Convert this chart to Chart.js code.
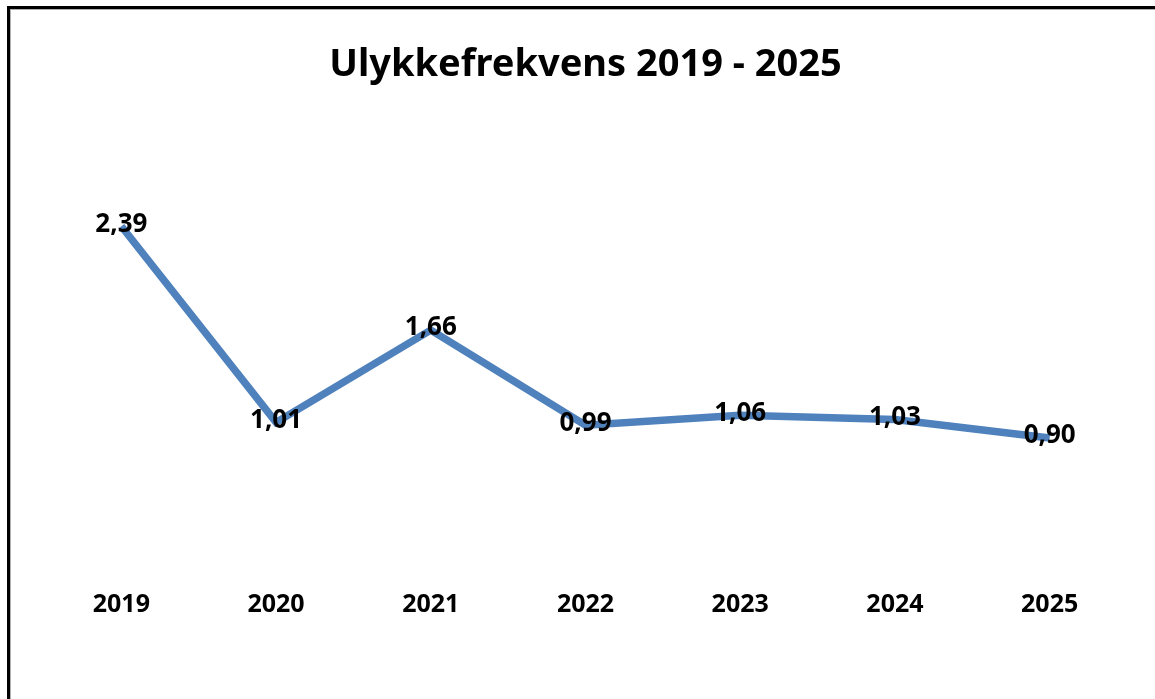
<!DOCTYPE html>
<html>
<head>
<meta charset="utf-8">
<script src="https://cdn.jsdelivr.net/npm/chart.js@4/dist/chart.umd.min.js"></script>
<style>
  html, body { margin: 0; padding: 0; background: #fff; overflow: hidden; }
  #wrap { position: absolute; left: 0; top: 0; width: 1155px; height: 699px; }
  #frame {
    position: absolute; left: 7px; top: 6px; width: 1170px; height: 720px;
    border: 3px solid #000; box-sizing: border-box; pointer-events: none;
    box-shadow: inset 1px 1px 0 #b0b0b0;
  }
</style>
</head>
<body>
<div id="wrap">
  <canvas id="chart" width="1155" height="699"></canvas>
  <div id="frame"></div>
</div>
<script>
const years = ['2019', '2020', '2021', '2022', '2023', '2024', '2025'];
const frequency = [2.39, 1.01, 1.66, 0.99, 1.06, 1.03, 0.90];
const chartTitle = 'Ulykkefrekvens 2019 - 2025';

const FONT = "'Noto Sans', 'Open Sans', sans-serif";

// draws the value on top of each point, norwegian decimal comma
const valueLabels = {
  id: 'valueLabels',
  afterDatasetsDraw(chart) {
    const { ctx } = chart;
    const meta = chart.getDatasetMeta(0);
    ctx.save();
    ctx.font = `bold 26px ${FONT}`;
    ctx.fillStyle = '#000';
    ctx.textAlign = 'center';
    ctx.textBaseline = 'middle';
    meta.data.forEach((pt, i) => {
      const txt = frequency[i].toFixed(2).replace('.', ',');
      ctx.fillText(txt, pt.x, pt.y - 2);
    });
    ctx.restore();
  }
};

new Chart(document.getElementById('chart'), {
  type: 'line',
  data: {
    labels: years,
    datasets: [{
      data: frequency,
      borderColor: '#4f81bd',
      borderWidth: 7.5,
      pointRadius: 0,
      tension: 0,
      fill: false
    }]
  },
  options: {
    responsive: false,
    animation: false,
    layout: { padding: { left: 44, right: 28, top: 0, bottom: 63 } },
    plugins: {
      legend: { display: false },
      tooltip: { enabled: false },
      title: {
        display: true,
        text: chartTitle,
        color: '#000',
        font: { family: FONT, size: 38, weight: 'bold' },
        padding: { top: 42, bottom: 52 }
      }
    },
    scales: {
      x: {
        offset: true,
        grid: { display: false },
        border: { display: false },
        ticks: {
          color: '#000',
          padding: 16,
          font: { family: FONT, size: 25, weight: 'bold' }
        }
      },
      y: {
        display: false,
        min: 0,
        max: 3
      }
    }
  },
  plugins: [valueLabels]
});
</script>
</body>
</html>
